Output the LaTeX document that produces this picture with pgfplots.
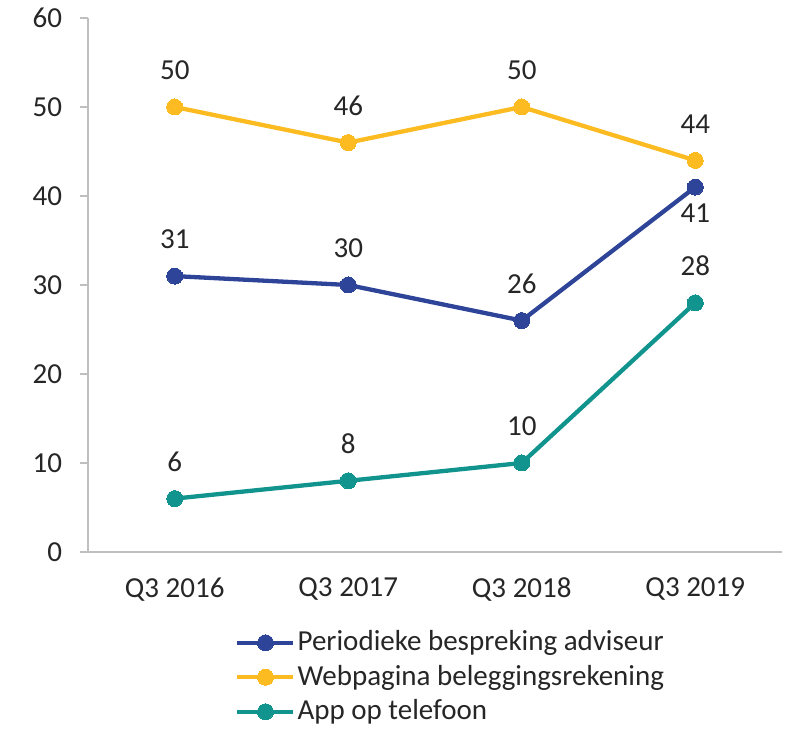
\documentclass[border=0pt]{standalone}
\usepackage{pgfplots}
\pgfplotsset{compat=1.18}
\usepackage{fontspec}
\setmainfont{Carlito}
\definecolor{cblue}{RGB}{46,68,152}
\definecolor{cyellow}{RGB}{251,187,33}
\definecolor{cteal}{RGB}{18,148,142}
\definecolor{ctext}{RGB}{38,38,38}
\definecolor{caxis}{RGB}{191,191,191}
\begin{document}
\fontsize{29bp}{34bp}\selectfont
\begin{tikzpicture}[x=1bp,y=1bp]
\path[use as bounding box] (0,0) rectangle (785,729);
\begin{axis}[
  at={(174.75bp,177bp)}, anchor=origin,
  scale only axis, width=694bp, height=534bp,
  xmin=-0.5, xmax=3.5, ymin=0, ymax=60,
  axis x line*=bottom, axis y line*=left,
  axis line style={draw=caxis, line width=1.3bp, -},
  ytick={0,10,...,60},
  xtick={0,1,2,3},
  xticklabels={Q3 2016,Q3 2017,Q3 2018,Q3 2019},
  x tick style={draw=none},
  extra x ticks={-0.5,0.5,1.5,2.5,3.5},
  extra x tick labels={},
  extra x tick style={tick style={draw=caxis, line width=1.3bp}, major tick length=8bp},
  y tick style={draw=caxis, line width=1.3bp},
  major tick length=8bp,
  tick align=outside,
  /pgf/number format/assume math mode=true,
  tick label style={font=\fontsize{29bp}{34bp}\selectfont, text=ctext},
  yticklabel style={xshift=-8bp},
  xticklabel style={yshift=-8bp},
  every node near coord/.append style={font=\fontsize{29bp}{34bp}\selectfont, text=ctext, inner sep=0pt},
  legend style={draw=none, fill=none, at={(rel axis cs:0.212,-0.143)}, anchor=north west,
    font=\fontsize{29bp}{34bp}\selectfont, text=ctext, row sep=6bp, inner sep=0pt,
    legend cell align=left},
  legend image code/.code={\draw[#1, mark repeat=2, mark phase=2] plot coordinates {(0bp,0bp) (28bp,0bp) (56bp,0bp)};},
  clip=false,
]
\addplot[cblue, line width=4.3bp, mark=*, mark size=8bp, mark options={line width=0pt},
  nodes near coords, point meta=explicit symbolic,
  every node near coord/.append style={anchor=south, yshift=27bp}]
  coordinates {(0,31)[31] (1,30)[30] (2,26)[26] (3,41)[]};
\addlegendentry{Periodieke bespreking adviseur}
\addplot[cyellow, line width=4.3bp, mark=*, mark size=8bp, mark options={line width=0pt},
  nodes near coords, point meta=explicit symbolic,
  every node near coord/.append style={anchor=south, yshift=27bp}]
  coordinates {(0,50)[50] (1,46)[46] (2,50)[50] (3,44)[44]};
\addlegendentry{Webpagina beleggingsrekening}
\addplot[cteal, line width=4.3bp, mark=*, mark size=8bp, mark options={line width=0pt},
  nodes near coords, point meta=explicit symbolic,
  every node near coord/.append style={anchor=south, yshift=27bp}]
  coordinates {(0,6)[6] (1,8)[8] (2,10)[10] (3,28)[28]};
\addlegendentry{App op telefoon}
\addplot[draw=none, mark=none, forget plot, nodes near coords, point meta=explicit symbolic,
  every node near coord/.append style={anchor=north, yshift=-17bp}]
  coordinates {(3,41)[41]};
\end{axis}
\end{tikzpicture}
\end{document}
